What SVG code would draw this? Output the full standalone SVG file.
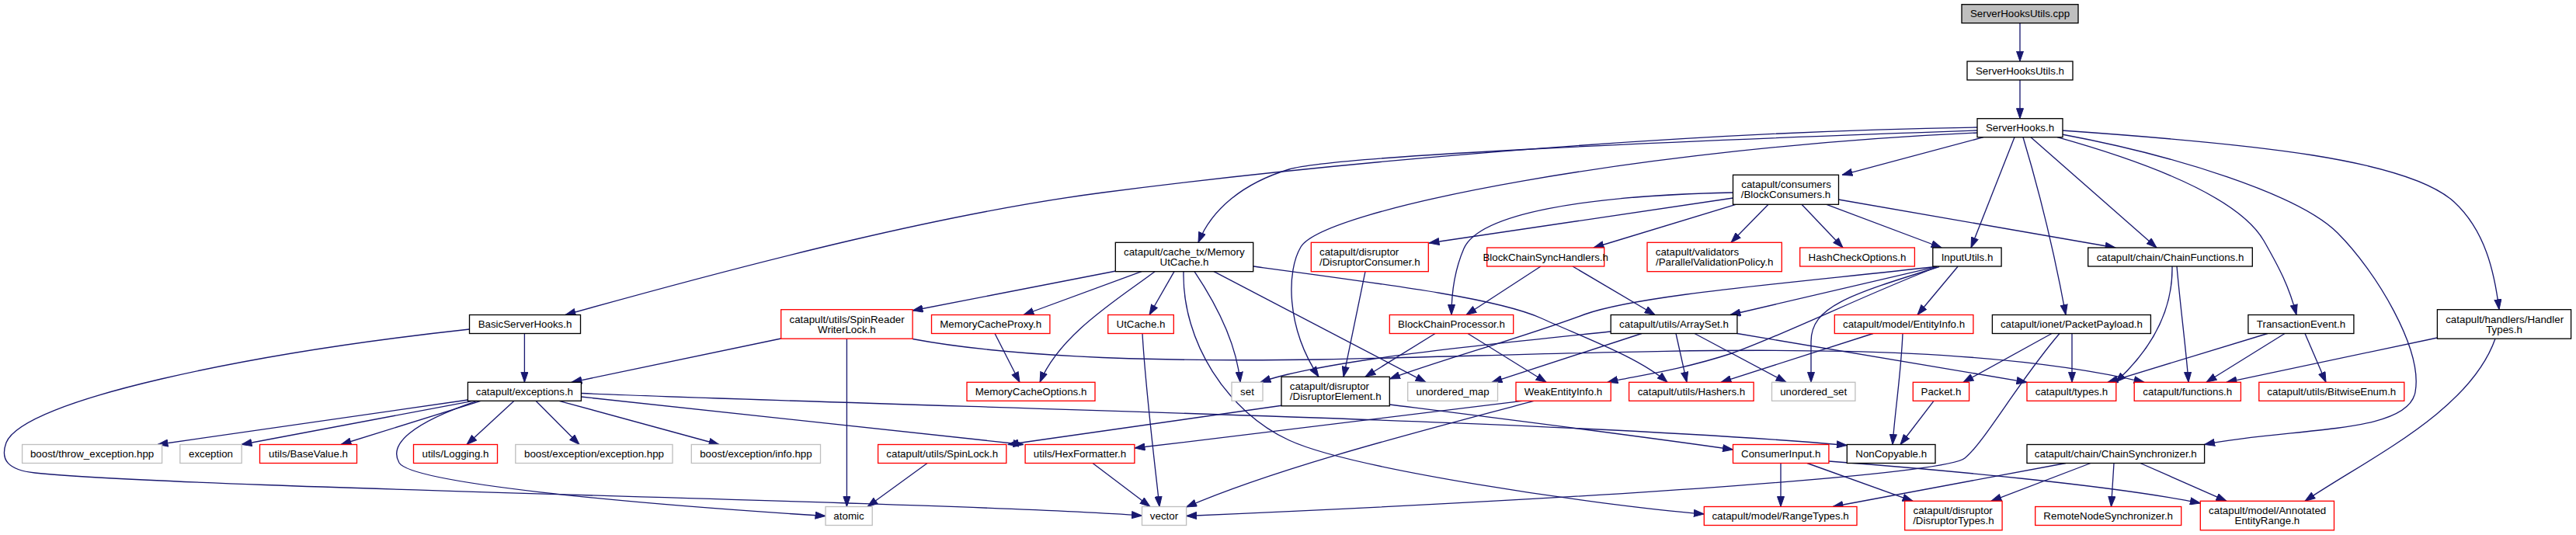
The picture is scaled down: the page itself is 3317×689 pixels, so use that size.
<svg xmlns="http://www.w3.org/2000/svg" width="3317" height="689" viewBox="0 0 3317 689">
<style>
.bk{fill:#fff;stroke:#000;stroke-width:1.33}
.rd{fill:#fff;stroke:#ff0000;stroke-width:1.33}
.gr{fill:#fff;stroke:#bfbfbf;stroke-width:1.33}
.root{fill:#bfbfbf;stroke:#000;stroke-width:1.33}
text{font-family:"Liberation Sans",Arial,Helvetica,sans-serif;font-size:13.33px;fill:#000}
.c{text-anchor:middle}
.l{text-anchor:start}
#edges path{fill:none;stroke:#191970;stroke-width:1.33;marker-end:url(#a)}
</style>
<defs>
<marker id="a" markerUnits="userSpaceOnUse" viewBox="0 0 14 10" markerWidth="14" markerHeight="10" refX="13.5" refY="5" orient="auto">
<path d="M0.5,0.5 L13.5,5 L0.5,9.5 z" fill="#191970" stroke="#191970" stroke-width="1"/>
</marker>
</defs>
<rect width="3317" height="689" fill="#fff"/>
<g id="edges">
<path d="M2601,29.7 L2601,79"/>
<path d="M2601,103 L2601,152.7"/>
<path d="M2546,164 C2146,170 1700,211.6 1420,248 C1220,274 978,335.5 728,405.5"/>
<path d="M2546,168 C2200,180 1720,200 1660,218 C1600,236 1560,270 1543,312.3"/>
<path d="M2546,171 C2120,190 1705,268 1675,318 C1657,348 1655,420 1698,485.3"/>
<path d="M2554,176.7 L2372,225.3"/>
<path d="M2594,176.7 L2538,319"/>
<path d="M2605,176.7 C2630,260 2648,340 2660,405.5"/>
<path d="M2615,176.7 L2777,319"/>
<path d="M2649,176.7 C2750,205 2880,250 2915,310 C2935,345 2948,370 2957,405.5"/>
<path d="M2655,173 C2800,200 2960,250 3010,300 C3060,350 3120,450 3110,505 C3100,560 2950,550 2838.6,572.5"/>
<path d="M2655,168 C2900,185 3100,205 3160,260 C3200,297 3212,350 3218,398.7"/>
<path d="M2231.5,255 L1840,313"/>
<path d="M2231.5,248 C2040,252 1905,275 1885,320 C1872,350 1869,380 1869,405.5"/>
<path d="M2235,263.3 L2052,319"/>
<path d="M2277,263.3 L2229,312.3"/>
<path d="M2320,263.3 L2373,319"/>
<path d="M2352,263.3 L2500,319"/>
<path d="M2367.5,257 L2724,319"/>
<path d="M1437,349 L1175,400"/>
<path d="M1470,349.7 L1318,405.5"/>
<path d="M1487,349.7 C1440,385 1365,430 1339,492.3"/>
<path d="M1512,349.7 L1480,405.5"/>
<path d="M1524,349.7 C1522,440 1580,530 1660,567 C1740,604 2050,650 2194.3,662"/>
<path d="M1538,349.7 C1565,390 1592,440 1597,492.3"/>
<path d="M1563,349.7 L1836,492.3"/>
<path d="M1613.7,343 C1800,368 1930,385 1985,410 C2040,435 2110,460 2147,492.3"/>
<path d="M675.4,429.5 L675.4,492.3"/>
<path d="M604.5,424 C320,455 30,515 8,570 C0,592 10,605.4 45,609 C250,629.5 1200,645 1470.5,664"/>
<path d="M1005.7,436 L736,492.3"/>
<path d="M1090.4,436.2 L1090.4,652.5"/>
<path d="M1175,436.5 C1300,460 1500,466 1700,463 C2100,455 2500,430 2761,492.3"/>
<path d="M1281,429.5 L1313,492.3"/>
<path d="M1471,429.5 C1475,500 1485,580 1493,652.5"/>
<path d="M602.4,515 L203,572.5"/>
<path d="M609,516.3 L311,572.5"/>
<path d="M619,516.3 L439,572.5"/>
<path d="M614,516.3 C530,545 500,572 514,596 C530,622 800,648 1063,664.5"/>
<path d="M662,516.3 L601,572.5"/>
<path d="M690,516.3 L746,572.5"/>
<path d="M720,516.3 L926,572.5"/>
<path d="M748.4,511 L1318,572.5"/>
<path d="M748.4,506.5 C1200,525 2000,540 2378.3,573.5"/>
<path d="M1194,596.5 L1117,652.5"/>
<path d="M1407,596.5 L1481,652.5"/>
<path d="M1758,349.7 L1730,485.3"/>
<path d="M1984,343 L1888,405.5"/>
<path d="M2025,343 L2131,405.5"/>
<path d="M1848,429.5 L1758,485.3"/>
<path d="M1890,429.5 L1991,492.3"/>
<path d="M2074.2,427 C1900,445 1700,465 1623,492.3"/>
<path d="M2114,429.5 L1921,492.3"/>
<path d="M2158,429.5 L2172,492.3"/>
<path d="M2182,429.5 L2300,492.3"/>
<path d="M2236.9,429.5 L2610,492.3"/>
<path d="M2494,343.3 L2228,405.5"/>
<path d="M2521,343.3 L2469,405.5"/>
<path d="M2497,343.5 C2380,380 2332,395 2332,440 L2332,492.3"/>
<path d="M2494,344 C2400,380 2300,430 2230,455 C2160,478 2100,485 2070,492.3"/>
<path d="M2492,343.5 C2300,365 2110,380 2040,405 C1960,435 1850,465 1789.5,488"/>
<path d="M2412,429.5 L2216,492.3"/>
<path d="M2450,429.5 C2448,480 2440,530 2437,572.5"/>
<path d="M2642,429.5 L2528,492.3"/>
<path d="M2668,429.5 L2668,492.3"/>
<path d="M2652,429.5 C2600,490 2555,570 2530,590 C2505,610 2100,640 1527.6,664.5"/>
<path d="M2920,429.5 L2714,492.3"/>
<path d="M2942,429.5 L2841,492.3"/>
<path d="M2968,429.5 L2995,492.3"/>
<path d="M2797,343 C2798,400 2770,450 2724,492.3"/>
<path d="M2803,343 C2808,400 2815,450 2818,492.3"/>
<path d="M3138.4,435 L2867,492.3"/>
<path d="M3213,436.2 C3180,530 3050,590 2968,645.3"/>
<path d="M2660,596.5 L2360,652.5"/>
<path d="M2692,596.5 L2564,645.3"/>
<path d="M2722,596.5 L2718.5,652.5"/>
<path d="M2756,596.5 L2867,645.3"/>
<path d="M2293,596.5 L2293,652.5"/>
<path d="M2327,596.5 L2463,645.3"/>
<path d="M2355,594 C2500,605 2720,625 2833.3,648"/>
<path d="M1789.3,521 C1900,535 2100,560 2231.5,579"/>
<path d="M1652,522 L1298,572.5"/>
<path d="M1960,516.3 C1850,530 1650,555 1461,577"/>
<path d="M1975,516.3 C1850,550 1650,600 1527.6,653"/>
<path d="M2490,516.3 L2447,572.5"/>
</g>
<g id="n_cpp"><rect class="root" x="2526" y="5.7" width="150" height="24"/><text class="c" x="2601" y="22.3">ServerHooksUtils.cpp</text></g>
<g id="n_suh"><rect class="bk" x="2533" y="79" width="136" height="24"/><text class="c" x="2601" y="95.6">ServerHooksUtils.h</text></g>
<g id="n_sh"><rect class="bk" x="2546" y="152.7" width="110" height="24"/><text class="c" x="2601" y="169.3">ServerHooks.h</text></g>
<g id="n_bc"><rect class="bk" x="2231.5" y="225.3" width="136" height="38"/><text class="l" x="2242.3" y="242.3">catapult/consumers</text><text class="c" x="2299.5" y="255.3">/BlockConsumers.h</text></g>
<g id="n_mutc"><rect class="bk" x="1436.3" y="312.3" width="177.4" height="37.4"/><text class="l" x="1447" y="329.3">catapult/cache_tx/Memory</text><text class="c" x="1525" y="342.3">UtCache.h</text></g>
<g id="n_dcons"><rect class="rd" x="1688.3" y="312.3" width="151" height="37.4"/><text class="l" x="1699" y="329.3">catapult/disruptor</text><text class="c" x="1763.8" y="342.3">/DisruptorConsumer.h</text></g>
<g id="n_bcsh"><rect class="rd" x="1914.7" y="319" width="151" height="24"/><text class="c" x="1990.2" y="335.6">BlockChainSyncHandlers.h</text></g>
<g id="n_pvp"><rect class="rd" x="2121" y="312.3" width="173.3" height="37.4"/><text class="l" x="2131.8" y="329.3">catapult/validators</text><text class="c" x="2207.7" y="342.3">/ParallelValidationPolicy.h</text></g>
<g id="n_hco"><rect class="rd" x="2317.7" y="319" width="147.7" height="24"/><text class="c" x="2391.5" y="335.6">HashCheckOptions.h</text></g>
<g id="n_iu"><rect class="bk" x="2488.8" y="319" width="88.3" height="24"/><text class="c" x="2533" y="335.6">InputUtils.h</text></g>
<g id="n_cf"><rect class="bk" x="2688.7" y="319" width="211.6" height="24"/><text class="c" x="2794.5" y="335.6">catapult/chain/ChainFunctions.h</text></g>
<g id="n_bsh"><rect class="bk" x="604.5" y="405.5" width="143" height="24"/><text class="c" x="676" y="422.1">BasicServerHooks.h</text></g>
<g id="n_srwl"><rect class="rd" x="1005.7" y="398.7" width="169.4" height="37.5"/><text class="l" x="1016.5" y="415.7">catapult/utils/SpinReader</text><text class="c" x="1090.4" y="428.7">WriterLock.h</text></g>
<g id="n_mcp"><rect class="rd" x="1199.5" y="405.5" width="152.4" height="24"/><text class="c" x="1275.7" y="422.1">MemoryCacheProxy.h</text></g>
<g id="n_utc"><rect class="rd" x="1426.7" y="405.5" width="84.6" height="24"/><text class="c" x="1469" y="422.1">UtCache.h</text></g>
<g id="n_bcp"><rect class="rd" x="1789.3" y="405.5" width="159.4" height="24"/><text class="c" x="1869" y="422.1">BlockChainProcessor.h</text></g>
<g id="n_as"><rect class="bk" x="2074.2" y="405.5" width="162.7" height="24"/><text class="c" x="2155.5" y="422.1">catapult/utils/ArraySet.h</text></g>
<g id="n_ei"><rect class="rd" x="2362.3" y="405.5" width="178.6" height="24"/><text class="c" x="2451.6" y="422.1">catapult/model/EntityInfo.h</text></g>
<g id="n_pp"><rect class="bk" x="2565.4" y="405.5" width="204" height="24"/><text class="c" x="2667.4" y="422.1">catapult/ionet/PacketPayload.h</text></g>
<g id="n_te"><rect class="bk" x="2894.9" y="405.5" width="136" height="24"/><text class="c" x="2963" y="422.1">TransactionEvent.h</text></g>
<g id="n_ht"><rect class="bk" x="3138.4" y="398.7" width="172.2" height="37.5"/><text class="l" x="3149.2" y="415.7">catapult/handlers/Handler</text><text class="c" x="3224.5" y="428.7">Types.h</text></g>
<g id="n_exc"><rect class="bk" x="602.4" y="492.3" width="146" height="24"/><text class="c" x="675.4" y="508.9">catapult/exceptions.h</text></g>
<g id="n_mco"><rect class="rd" x="1245" y="492.3" width="165" height="24"/><text class="c" x="1327.5" y="508.9">MemoryCacheOptions.h</text></g>
<g id="n_set"><rect class="gr" x="1586" y="492.3" width="40" height="24"/><text class="c" x="1606" y="508.9">set</text></g>
<g id="n_de"><rect class="bk" x="1650" y="485.3" width="139.3" height="37.5"/><text class="l" x="1660.8" y="502.3">catapult/disruptor</text><text class="c" x="1719.7" y="515.3">/DisruptorElement.h</text></g>
<g id="n_um"><rect class="gr" x="1812.7" y="492.3" width="115.8" height="24"/><text class="c" x="1870.6" y="508.9">unordered_map</text></g>
<g id="n_wei"><rect class="rd" x="1952" y="492.3" width="122.2" height="24"/><text class="c" x="2013" y="508.9">WeakEntityInfo.h</text></g>
<g id="n_hash"><rect class="rd" x="2097.6" y="492.3" width="160.5" height="24"/><text class="c" x="2177.9" y="508.9">catapult/utils/Hashers.h</text></g>
<g id="n_us"><rect class="gr" x="2281.5" y="492.3" width="107.4" height="24"/><text class="c" x="2335.2" y="508.9">unordered_set</text></g>
<g id="n_pkt"><rect class="rd" x="2463.3" y="492.3" width="72.3" height="24"/><text class="c" x="2499.5" y="508.9">Packet.h</text></g>
<g id="n_types"><rect class="rd" x="2610" y="492.3" width="114.8" height="24"/><text class="c" x="2667.4" y="508.9">catapult/types.h</text></g>
<g id="n_func"><rect class="rd" x="2748.2" y="492.3" width="137.2" height="24"/><text class="c" x="2816.8" y="508.9">catapult/functions.h</text></g>
<g id="n_bwe"><rect class="rd" x="2908.8" y="492.3" width="187" height="24"/><text class="c" x="3002.3" y="508.9">catapult/utils/BitwiseEnum.h</text></g>
<g id="n_bte"><rect class="gr" x="28.6" y="572.5" width="180" height="24"/><text class="c" x="118.6" y="589.1">boost/throw_exception.hpp</text></g>
<g id="n_exn"><rect class="gr" x="231.8" y="572.5" width="79.4" height="24"/><text class="c" x="271.5" y="589.1">exception</text></g>
<g id="n_bv"><rect class="rd" x="334.5" y="572.5" width="125" height="24"/><text class="c" x="397" y="589.1">utils/BaseValue.h</text></g>
<g id="n_log"><rect class="rd" x="532.5" y="572.5" width="108" height="24"/><text class="c" x="586.5" y="589.1">utils/Logging.h</text></g>
<g id="n_bee"><rect class="gr" x="663.8" y="572.5" width="202.2" height="24"/><text class="c" x="765" y="589.1">boost/exception/exception.hpp</text></g>
<g id="n_bei"><rect class="gr" x="890.3" y="572.5" width="166.2" height="24"/><text class="c" x="973.4" y="589.1">boost/exception/info.hpp</text></g>
<g id="n_sl"><rect class="rd" x="1130.6" y="572.5" width="165.2" height="24"/><text class="c" x="1213.2" y="589.1">catapult/utils/SpinLock.h</text></g>
<g id="n_hex"><rect class="rd" x="1320.1" y="572.5" width="140.8" height="24"/><text class="c" x="1390.5" y="589.1">utils/HexFormatter.h</text></g>
<g id="n_ci"><rect class="rd" x="2231.5" y="572.5" width="123.4" height="24"/><text class="c" x="2293.2" y="589.1">ConsumerInput.h</text></g>
<g id="n_nc"><rect class="bk" x="2378.3" y="572.5" width="113.7" height="24"/><text class="c" x="2435.2" y="589.1">NonCopyable.h</text></g>
<g id="n_cs"><rect class="bk" x="2610" y="572.5" width="228.6" height="24"/><text class="c" x="2724.3" y="589.1">catapult/chain/ChainSynchronizer.h</text></g>
<g id="n_atom"><rect class="gr" x="1063" y="652.5" width="60.2" height="24"/><text class="c" x="1093" y="669.1">atomic</text></g>
<g id="n_vec"><rect class="gr" x="1470.5" y="652.5" width="57.1" height="24"/><text class="c" x="1499" y="669.1">vector</text></g>
<g id="n_rt"><rect class="rd" x="2194.3" y="652.5" width="196.7" height="24"/><text class="c" x="2292.6" y="669.1">catapult/model/RangeTypes.h</text></g>
<g id="n_dt"><rect class="rd" x="2452.7" y="645.3" width="125.4" height="37.5"/><text class="l" x="2463.5" y="662.3">catapult/disruptor</text><text class="c" x="2515.4" y="675.3">/DisruptorTypes.h</text></g>
<g id="n_rns"><rect class="rd" x="2620.7" y="652.5" width="188" height="24"/><text class="c" x="2714.7" y="669.1">RemoteNodeSynchronizer.h</text></g>
<g id="n_aer"><rect class="rd" x="2833.3" y="645.3" width="172.2" height="37.5"/><text class="l" x="2844.1" y="662.3">catapult/model/Annotated</text><text class="c" x="2919.4" y="675.3">EntityRange.h</text></g>
</svg>
